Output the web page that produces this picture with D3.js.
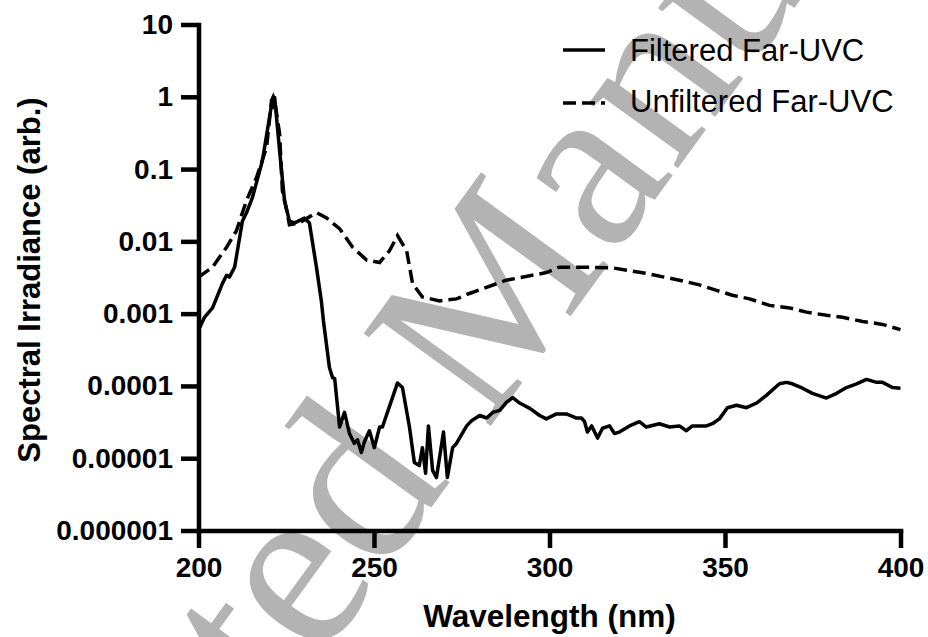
<!DOCTYPE html>
<meta charset="utf-8">
<style>
    body { margin: 0; background: #fff; }
    svg { display: block; font-family: "Liberation Sans", Arial, sans-serif; }
    .axis path, .axis line { stroke: #000; stroke-width: 4.5; }
    .axis path { stroke-linecap: square; }
    .axis text { font-size: 28px; font-weight: bold; fill: #000; }
</style>
<body>
<svg width="928" height="637"></svg>
<script src="https://d3js.org/d3.v7.min.js"></script>
<script>
// wavelength (nm) and irradiance
var filteredWl = [200.0, 201.7, 204.0, 206.8, 208.0, 208.8, 210.3, 212.5, 213.7, 215.4, 218.2, 220.2, 221.0, 221.3, 221.7,
    223.1, 224.5, 225.9, 227.4, 230.2, 231.6, 233.6, 235.0, 235.6, 237.3, 238.2, 238.8, 240.2, 241.6, 243.0,
    244.4, 245.3, 246.4, 247.3, 248.7, 250.1, 251.6, 252.4, 256.7, 258.1, 260.1, 261.5, 262.9, 263.8, 264.7,
    265.5, 266.7, 267.8, 269.8, 270.9, 272.4, 273.5, 276.4, 277.8, 280.1, 282.1, 283.8, 285.8, 287.7, 289.5,
    291.5, 294.4, 297.2, 299.1, 302.0, 304.8, 307.7, 309.1, 310.0, 310.8, 312.0, 313.7, 315.1, 317.1, 318.5,
    319.9, 322.8, 325.6, 327.6, 331.3, 334.2, 337.0, 339.0, 340.7, 344.7, 346.4, 348.4, 350.7, 353.3, 356.1,
    359.0, 361.8, 365.5, 367.5, 369.2, 372.1, 374.9, 378.9, 381.8, 384.6, 387.5, 390.3, 393.2, 394.9, 397.7, 400.0];
var filteredVal = [5.9e-4, 8.9e-4, 1.2e-3, 2.6e-3, 3.4e-3, 3.2e-3, 4.4e-3, 1.9e-2, 2.5e-2, 4.1e-2, 0.13, 0.51, 0.89, 0.71, 0.98,
    0.18, 0.037, 0.019, 0.018, 0.021, 0.018, 4.4e-3, 1.5e-3, 7.9e-4, 1.8e-4, 1.3e-4, 1.26e-4, 2.7e-5, 4.3e-5, 2.2e-5,
    1.6e-5, 1.8e-5, 1.2e-5, 1.7e-5, 2.4e-5, 1.4e-5, 2.7e-5, 2.7e-5, 1.1e-4, 9.5e-5, 2.7e-5, 8.7e-6, 7.9e-6, 1.4e-5, 6.2e-6,
    2.8e-5, 6.8e-6, 5.4e-6, 2.3e-5, 5.4e-6, 1.4e-5, 1.6e-5, 2.8e-5, 3.3e-5, 3.9e-5, 3.6e-5, 4.3e-5, 4.6e-5, 5.9e-5, 6.9e-5,
    5.8e-5, 4.9e-5, 3.9e-5, 3.5e-5, 4.1e-5, 4.1e-5, 3.6e-5, 3.6e-5, 3.2e-5, 2.3e-5, 2.8e-5, 1.9e-5, 2.6e-5, 2.8e-5, 2.2e-5,
    2.3e-5, 2.8e-5, 3.2e-5, 2.7e-5, 3.0e-5, 2.7e-5, 2.8e-5, 2.4e-5, 2.8e-5, 2.8e-5, 3.0e-5, 3.5e-5, 5.0e-5, 5.4e-5, 5.0e-5,
    5.8e-5, 7.4e-5, 1.07e-4, 1.12e-4, 1.07e-4, 9.3e-5, 7.9e-5, 6.8e-5, 7.9e-5, 9.5e-5, 1.07e-4, 1.23e-4, 1.12e-4, 1.12e-4, 9.5e-5, 9.3e-5];

var unfilteredWl = [200.0, 204.0, 208.0, 210.8, 213.7, 216.5, 219.4, 220.8, 221.3, 221.7, 223.1, 223.9, 225.1, 225.9, 228.8,
    233.6, 236.5, 240.2, 243.9, 247.9, 251.6, 254.4, 256.7, 259.3, 261.0, 263.8, 268.7, 273.5, 277.2, 287.7,
    299.1, 302.8, 308.5, 317.9, 327.6, 337.0, 342.7, 347.6, 352.1, 357.0, 362.7, 368.4, 373.2, 378.9, 383.5,
    389.2, 394.9, 400.0];
var unfilteredVal = [3.2e-3, 4.4e-3, 8.3e-3, 0.014, 0.037, 0.076, 0.20, 0.89, 1.0, 0.89, 0.31, 0.050, 0.027, 0.017, 0.018,
    0.025, 0.021, 0.015, 8.3e-3, 5.5e-3, 5.1e-3, 7.4e-3, 0.012, 7.4e-3, 2.6e-3, 1.7e-3, 1.5e-3, 1.6e-3, 1.9e-3, 2.9e-3,
    3.7e-3, 4.4e-3, 4.4e-3, 4.3e-3, 3.6e-3, 2.9e-3, 2.5e-3, 2.1e-3, 1.8e-3, 1.6e-3, 1.3e-3, 1.2e-3, 1.05e-3, 9.5e-4, 8.9e-4,
    7.8e-4, 7.1e-4, 6.0e-4];

var xTicks = [200, 250, 300, 350, 400];
var yTicks = [1e-6, 1e-5, 1e-4, 1e-3, 1e-2, 1e-1, 1, 10];
var yTickLabels = ["0.000001", "0.00001", "0.0001", "0.001", "0.01", "0.1", "1", "10"];
var seriesNames = ["Filtered Far-UVC", "Unfiltered Far-UVC"];

var svg = d3.select("svg");

var x = d3.scaleLinear().domain([200, 400]).range([198.5, 900.5]);
var y = d3.scaleLog().domain([1e-6, 10]).range([530.5, 24.5]);

// watermark behind everything
svg.append("text")
    .attr("transform", "translate(524,380) rotate(-54)")
    .attr("text-anchor", "middle")
    .attr("font-family", "'Liberation Serif', 'Times New Roman', serif")
    .attr("font-size", 240)
    .attr("fill", "#b3b3b3")
    .text("Accepted Manuscript");

var line = d3.line()
    .x(function(d) { return x(d[0]); })
    .y(function(d) { return y(d[1]); });

svg.append("path")
    .datum(d3.zip(unfilteredWl, unfilteredVal))
    .attr("fill", "none")
    .attr("stroke", "#000")
    .attr("stroke-width", 3.5)
    .attr("stroke-dasharray", "13,6")
    .attr("d", line);

svg.append("path")
    .datum(d3.zip(filteredWl, filteredVal))
    .attr("fill", "none")
    .attr("stroke", "#000")
    .attr("stroke-width", 3.5)
    .attr("stroke-linejoin", "round")
    .attr("d", line);

var gx = svg.append("g").attr("class", "axis")
    .attr("transform", "translate(0,530.5)")
    .call(d3.axisBottom(x).tickValues(xTicks).tickSize(17.5).tickSizeOuter(0).tickPadding(6));
gx.selectAll("text").attr("dy", "0.82em");

var gy = svg.append("g").attr("class", "axis")
    .attr("transform", "translate(198.5,0)")
    .call(d3.axisLeft(y).tickValues(yTicks).tickSize(17.5).tickSizeOuter(0).tickPadding(8)
        .tickFormat(function(d, i) { return yTickLabels[i]; }));

svg.append("text")
    .attr("x", x(300)).attr("y", 627)
    .attr("text-anchor", "middle")
    .attr("font-size", 31.5).attr("font-weight", "bold")
    .text("Wavelength (nm)");

svg.append("text")
    .attr("transform", "translate(40,280) rotate(-90)")
    .attr("text-anchor", "middle")
    .attr("font-size", 31).attr("font-weight", "bold")
    .text("Spectral Irradiance (arb.)");

// legend
var legend = svg.append("g");
legend.selectAll("line")
    .data(seriesNames)
    .enter().append("line")
    .attr("x1", 563).attr("x2", 605)
    .attr("y1", function(d, i) { return 50 + i * 53; })
    .attr("y2", function(d, i) { return 50 + i * 53; })
    .attr("stroke", "#000").attr("stroke-width", 3.5)
    .attr("stroke-dasharray", function(d, i) { return i ? "13,6" : null; });
legend.selectAll("text")
    .data(seriesNames)
    .enter().append("text")
    .attr("x", 630)
    .attr("y", function(d, i) { return 61 + i * 51; })
    .attr("font-size", 31)
    .text(function(d) { return d; });
</script>
</body>
